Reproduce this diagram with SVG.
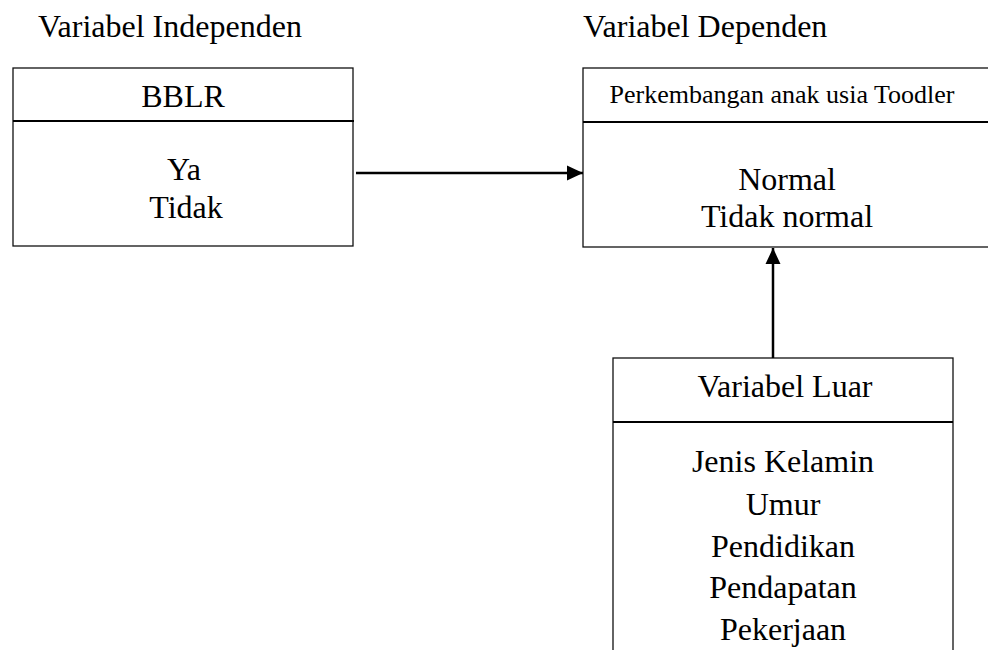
<svg xmlns="http://www.w3.org/2000/svg" width="988" height="650" viewBox="0 0 988 650">
<style>
text{font-family:"Liberation Serif","Times New Roman",serif;fill:#000;font-size:32px}
.c{text-anchor:middle}
.box{fill:#fff;stroke:#111;stroke-width:1.3}
.div{stroke:#000;stroke-width:2}
.conn{stroke:#000;stroke-width:2.5;fill:none}
</style>
<defs>
<marker id="ah" markerWidth="16" markerHeight="16" refX="16" refY="8" orient="auto" markerUnits="userSpaceOnUse">
<path d="M0,0.5 L16,8 L0,15.5 Z" fill="#000"/>
</marker>
</defs>
<rect width="988" height="650" fill="#fff"/>
<text x="38" y="37">Variabel Independen</text>
<text x="583" y="37">Variabel Dependen</text>
<g id="bblr">
<rect class="box" x="13" y="68" width="340" height="178"/>
<line class="div" x1="13" y1="121" x2="354" y2="121"/>
<text class="c" x="183" y="107">BBLR</text>
<text class="c" x="184" y="180">Ya</text>
<text class="c" x="186" y="218">Tidak</text>
</g>
<g id="perkembangan">
<rect class="box" x="583" y="68" width="410" height="179"/>
<line class="div" x1="583" y1="122" x2="993" y2="122"/>
<text class="c" x="782" y="103" style="font-size:26px">Perkembangan anak usia Toodler</text>
<text class="c" x="787" y="190">Normal</text>
<text class="c" x="787" y="227">Tidak normal</text>
</g>
<g id="luar">
<rect class="box" x="613" y="358" width="340" height="300"/>
<line class="div" x1="613" y1="422" x2="953" y2="422"/>
<text class="c" x="785" y="397">Variabel Luar</text>
<text class="c" x="783" y="472">Jenis Kelamin</text>
<text class="c" x="783" y="515">Umur</text>
<text class="c" x="783" y="557">Pendidikan</text>
<text class="c" x="783" y="598">Pendapatan</text>
<text class="c" x="783" y="640">Pekerjaan</text>
</g>
<g id="connectors">
<line class="conn" x1="356" y1="173" x2="583" y2="173" marker-end="url(#ah)"/>
<line class="conn" x1="773" y1="358" x2="773" y2="248" marker-end="url(#ah)"/>
</g>
</svg>
